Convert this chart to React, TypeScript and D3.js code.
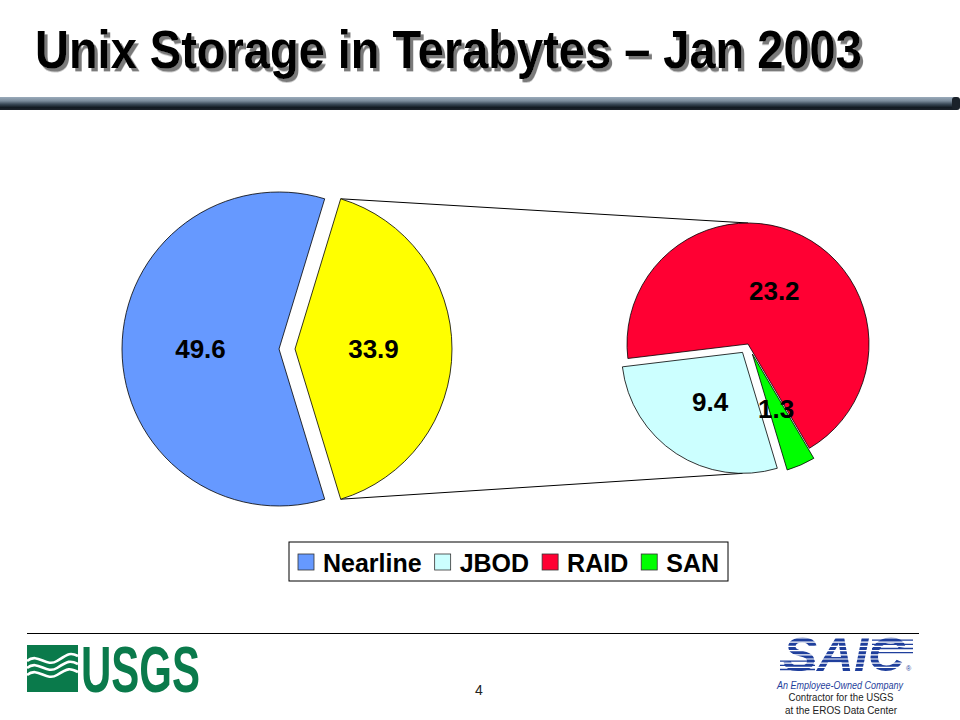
import React from "react";
import * as d3 from "d3";

// ---- data ----
const legendCategories = ["Nearline", "JBOD", "RAID", "SAN"];
const legendColors = ["#6699ff", "#ccffff", "#ff0033", "#00ff00"];
const mainCategories = ["Nearline", "Other"];
const mainValues = [49.6, 33.9];
const mainColors = ["#6699ff", "#ffff00"];
const subCategories = ["SAN", "JBOD", "RAID"];
const subValues = [1.3, 9.4, 23.2];
const subColors = ["#00ff00", "#ccffff", "#ff0033"];

const FONT = "'Liberation Sans', Arial, sans-serif";
const deg = Math.PI / 180;

function pt(cx: number, cy: number, a: number, r: number) {
  return [cx + Math.sin(a) * r, cy - Math.cos(a) * r];
}

function measure(text: string, font: string) {
  try {
    const c = document.createElement("canvas").getContext("2d")!;
    c.font = font;
    return c.measureText(text).width;
  } catch {
    return text.length * 14;
  }
}

export default function App() {
  // main pie layout
  const mcx = 287, mcy = 349, mr = 157;
  const mainExplode = [8, 8];
  const total = d3.sum(mainValues);
  const otherAngle = (2 * Math.PI * mainValues[1]) / total;
  const mStart = Math.PI / 2 + otherAngle / 2;
  const mainPie = d3.pie<number>().sort(null).startAngle(mStart).endAngle(mStart + 2 * Math.PI)(mainValues);
  const mainArc = d3.arc<any>().innerRadius(0).outerRadius(mr);

  // sub pie layout
  const scx = 748, scy = 344, sr = 121;
  const subExplode = [11, 10, 0];
  const sStart = 149.5 * deg;
  const subPie = d3.pie<number>().sort(null).startAngle(sStart).endAngle(sStart + 2 * Math.PI)(subValues);
  const subArc = d3.arc<any>().innerRadius(0).outerRadius(sr);

  const mainSlices = mainPie.map((d, i) => {
    const mid = (d.startAngle + d.endAngle) / 2;
    const [ox, oy] = pt(0, 0, mid, mainExplode[i]);
    return { d, i, mid, cx: mcx + ox, cy: mcy + oy };
  });
  const subSlices = subPie.map((d, i) => {
    const mid = (d.startAngle + d.endAngle) / 2;
    const [ox, oy] = pt(0, 0, mid, subExplode[i]);
    return { d, i, mid, cx: scx + ox, cy: scy + oy };
  });

  // connector lines
  const other = mainSlices[1];
  const p1 = pt(other.cx, other.cy, other.d.startAngle, mr);
  const p2 = pt(other.cx, other.cy, other.d.endAngle, mr);
  const q1 = pt(scx, scy, 0, sr);
  const bottomSlice = subSlices.find((s) => {
    const a = Math.PI;
    const norm = (x: number) => ((x % (2 * Math.PI)) + 2 * Math.PI) % (2 * Math.PI);
    const s0 = norm(s.d.startAngle), s1 = s0 + (s.d.endAngle - s.d.startAngle);
    return (a >= s0 && a <= s1) || (a + 2 * Math.PI >= s0 && a + 2 * Math.PI <= s1);
  })!;
  const q2 = pt(bottomSlice.cx, bottomSlice.cy, Math.PI, sr);

  // legend layout
  const legFont = `bold 25px Liberation Sans`;
  const legX0 = 289, legY0 = 542, legH = 39;
  let cursor = legX0 + 9;
  const legItems = legendCategories.map((c, i) => {
    const sx = cursor;
    const tx = sx + 25;
    const w = measure(c, legFont);
    cursor = tx + w + 13;
    return { c, i, sx, tx };
  });
  const legW = cursor - 13 + 9 - legX0;

  return (
    <svg width={960} height={720} style={{ position: "absolute", left: 0, top: 0, background: "#fff" }} fontFamily={FONT}>
      <defs>
        <linearGradient id="bar" x1="0" y1="0" x2="0" y2="1">
          <stop offset="0" stopColor="#9aabbb" />
          <stop offset="0.3" stopColor="#7a8b9b" />
          <stop offset="0.55" stopColor="#3a4a58" />
          <stop offset="0.8" stopColor="#111a22" />
          <stop offset="1" stopColor="#1c232b" />
        </linearGradient>
        <filter id="shadow" x="-5%" y="-30%" width="110%" height="160%">
          <feDropShadow dx={3} dy={3} stdDeviation={0.6} floodColor="#7a7a7a" floodOpacity={1} />
        </filter>
      </defs>
      <rect width={960} height={720} fill="#fff" />

      {/* title */}
      <g transform="translate(35,68) scale(1,1.13)" fontSize={47} fontWeight="bold" filter="url(#shadow)">
        <text x={0} y={0} fill="#000">Unix Storage in Terabytes – Jan 2003</text>
      </g>
      <rect x={0} y={97} width={957} height={13} fill="url(#bar)" />
      <rect x={952} y={97} width={8} height={13} rx={3} fill="#1a222a" />

      {/* connector lines */}
      <line x1={p1[0]} y1={p1[1]} x2={q1[0]} y2={q1[1]} stroke="#000" strokeWidth={1} />
      <line x1={p2[0]} y1={p2[1]} x2={q2[0]} y2={q2[1]} stroke="#000" strokeWidth={1} />

      {/* pies */}
      {mainSlices.map((s) => (
        <path key={"m" + s.i} d={mainArc(s.d)!} transform={`translate(${s.cx},${s.cy})`} fill={mainColors[s.i]} stroke="#000" strokeWidth={0.8} />
      ))}
      {subSlices.map((s) => (
        <path key={"s" + s.i} d={subArc(s.d)!} transform={`translate(${s.cx},${s.cy})`} fill={subColors[s.i]} stroke="#000" strokeWidth={0.8} />
      ))}

      {/* labels */}
      {mainSlices.map((s) => {
        const [x, y] = pt(s.cx, s.cy, s.mid, mr * 0.5);
        return (
          <text key={"ml" + s.i} x={x} y={y} dy="0.36em" textAnchor="middle" fontSize={26} fontWeight="bold" fill="#000">
            {mainValues[s.i].toFixed(1)}
          </text>
        );
      })}
      {subSlices.map((s) => {
        const [x, y] = pt(s.cx, s.cy, s.mid, sr * 0.49);
        return (
          <text key={"sl" + s.i} x={x} y={y} dy="0.36em" textAnchor="middle" fontSize={26} fontWeight="bold" fill="#000">
            {subValues[s.i].toFixed(1)}
          </text>
        );
      })}

      {/* legend */}
      <rect x={legX0} y={legY0} width={legW} height={legH} fill="#fff" stroke="#000" strokeWidth={1} />
      {legItems.map((it) => (
        <g key={"lg" + it.i}>
          <rect x={it.sx} y={554} width={16} height={16} fill={legendColors[it.i]} stroke="#333" strokeWidth={0.8} />
          <text x={it.tx} y={571.5} fontSize={25} fontWeight="bold" fill="#000">{it.c}</text>
        </g>
      ))}

      {/* footer */}
      <line x1={27} y1={633.5} x2={919} y2={633.5} stroke="#000" strokeWidth={1} />

      {/* USGS logo */}
      <rect x={27} y={645} width={51} height={47} fill="#0a7a4b" />
      <path d="M27,661 C38,652 46,668 57,661 S70,652 78,656" fill="none" stroke="#fff" strokeWidth={2.6} />
      <path d="M27,668 C38,659 46,675 57,668 S70,660 78,664" fill="none" stroke="#fff" strokeWidth={2.6} />
      <path d="M27,675 C38,666 46,682 57,675 S70,668 78,672" fill="none" stroke="#fff" strokeWidth={2.6} />
      <text x={81} y={692} fontSize={64} fontWeight="bold" fill="#0a7a4b" textLength={119} lengthAdjust="spacingAndGlyphs">USGS</text>

      {/* page number */}
      <text x={479} y={695} fontSize={14} textAnchor="middle" fill="#222">4</text>

      {/* SAIC logo */}
      <text x={783} y={671} fontSize={48} fontWeight="bold" fontStyle="italic" fill="#1f3f9c" textLength={122} lengthAdjust="spacingAndGlyphs">SAIC</text>
      {d3.range(638, 672, 4.2).map((y, i) => (
        <line key={"st" + i} x1={778} y1={y} x2={912} y2={y} stroke="#fff" strokeWidth={1.2} />
      ))}
      {d3.range(638, 652, 4.2).map((y, i) => (
        <line key={"bt" + i} x1={872} y1={y + 2.1} x2={913} y2={y + 2.1} stroke="#1f3f9c" strokeWidth={1.3} />
      ))}
      {d3.range(659, 671, 4.2).map((y, i) => (
        <line key={"bb" + i} x1={780} y1={y + 2.1} x2={815} y2={y + 2.1} stroke="#1f3f9c" strokeWidth={1.3} />
      ))}
      <text x={906} y={671} fontSize={7} fill="#1f3f9c">®</text>
      <text x={777} y={689} fontSize={11} fontStyle="italic" fill="#1f3f9c" textLength={126} lengthAdjust="spacingAndGlyphs">An Employee-Owned Company</text>
      <text x={841} y={700.5} fontSize={10.5} textAnchor="middle" fill="#222" textLength={105} lengthAdjust="spacingAndGlyphs">Contractor for the USGS</text>
      <text x={841} y={714} fontSize={10.5} textAnchor="middle" fill="#222" textLength={112} lengthAdjust="spacingAndGlyphs">at the EROS Data Center</text>
    </svg>
  );
}
